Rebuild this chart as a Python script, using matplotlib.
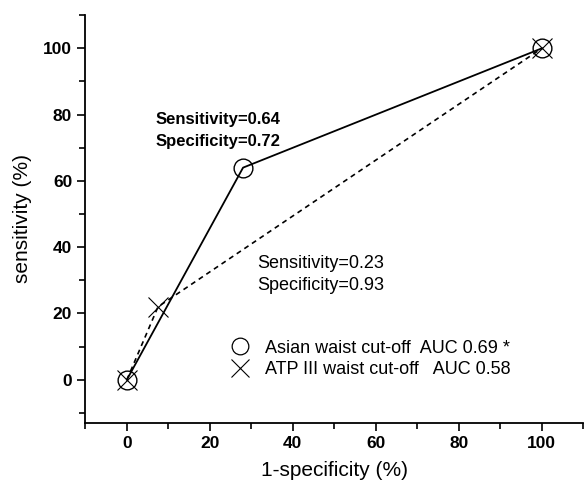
import matplotlib
matplotlib.use('Agg')
from matplotlib import pyplot as plt
from matplotlib.lines import Line2D
from matplotlib.ticker import MultipleLocator

plt.rcParams['font.family'] = ['Liberation Sans', 'DejaVu Sans']

# ROC points (1-specificity %, sensitivity %)
asian_x = [0, 28, 100]
asian_y = [0, 64, 100]
atp_x = [0, 7.5, 100]
atp_y = [0, 22, 100]

asian_label = 'Asian waist cut-off  AUC 0.69 *'
atp_label = 'ATP III waist cut-off   AUC 0.58'

fig = plt.figure(figsize=(5.85, 4.91), dpi=100)
ax = fig.add_axes([0.146, 0.139, 0.851, 0.83])

ax.plot(atp_x, atp_y, color='black', lw=1.2, ls=(0, (3, 2.5)),
        marker='x', ms=14, mew=0.8)
ax.plot(asian_x, asian_y, color='black', lw=1.3,
        marker='o', ms=13.5, mfc='none', mew=1.0)

ax.text(6.9, 78.5, 'Sensitivity=0.64', fontsize=12, fontweight='bold', va='center')
ax.text(6.9, 71.8, 'Specificity=0.72', fontsize=12, fontweight='bold', va='center')
ax.text(31.5, 35.2, 'Sensitivity=0.23', fontsize=13, va='center')
ax.text(31.5, 28.5, 'Specificity=0.93', fontsize=13, va='center')

handles = [
    Line2D([], [], color='black', ls='none', marker='o', ms=12, mfc='none', mew=0.9),
    Line2D([], [], color='black', ls='none', marker='x', ms=13, mew=0.8),
]
ax.legend(handles, [asian_label, atp_label], loc='center left',
          bbox_to_anchor=(0.284, 0.157), frameon=False, fontsize=13,
          borderaxespad=0, borderpad=0, handletextpad=0.64,
          labelspacing=0.25, handlelength=1.5)

ax.set_xlim(-10, 110)
ax.set_ylim(-13, 110)
ax.xaxis.set_minor_locator(MultipleLocator(10))
ax.yaxis.set_minor_locator(MultipleLocator(10))
ax.set_xticks([0, 20, 40, 60, 80, 100])
ax.set_yticks([0, 20, 40, 60, 80, 100])
ax.tick_params(which='both', direction='out', width=1.2, labelsize=12.5)
ax.tick_params(which='major', length=6)
ax.tick_params(which='minor', length=4)
for lab in ax.get_xticklabels() + ax.get_yticklabels():
    lab.set_fontweight('bold')

for side in ['top', 'right']:
    ax.spines[side].set_visible(False)
for side in ['left', 'bottom']:
    ax.spines[side].set_linewidth(1.3)

ax.set_xlabel('1-specificity (%)', fontsize=15, labelpad=7)
ax.set_ylabel('sensitivity (%)', fontsize=15, labelpad=8)

fig.savefig('out.png', dpi=100)
